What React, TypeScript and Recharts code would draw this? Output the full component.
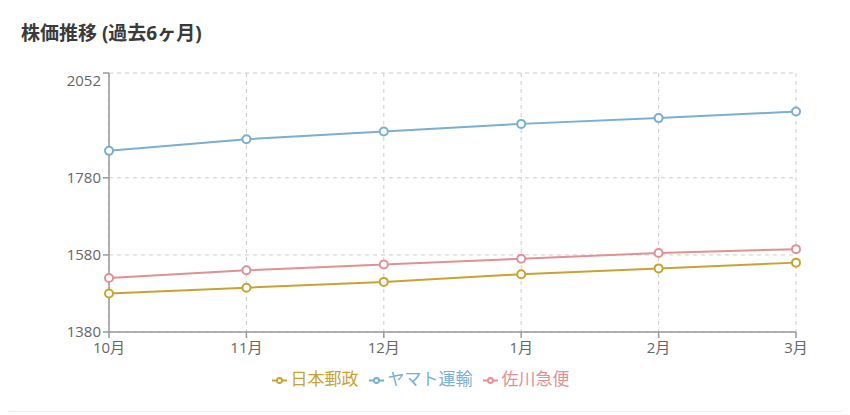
import { CartesianGrid, Legend, Line, LineChart, XAxis, YAxis } from 'recharts';

const months = ['10月', '11月', '12月', '1月', '2月', '3月'];
const japanPost = [1480, 1495, 1510, 1530, 1545, 1560];
const yamato = [1850, 1880, 1900, 1920, 1935, 1952];
const sagawa = [1520, 1540, 1555, 1570, 1585, 1595];
const seriesNames = ['日本郵政', 'ヤマト運輸', '佐川急便'];
const yTicks = [1380, 1580, 1780, 2052];

const data = months.map((month, i) => ({
  month,
  japanPost: japanPost[i],
  yamato: yamato[i],
  sagawa: sagawa[i],
}));

const FONT = "'Open Sans', 'Noto Sans CJK JP', sans-serif";

function YTick(props: any) {
  const { x, y, payload } = props;
  // top label sits a bit lower in the original
  const shift = payload.value === 2052 ? 8 : 0;
  return (
    <text x={x} y={y + shift} dy="0.355em" textAnchor="end" fill="#666" fontSize={15} fontFamily={FONT}>
      {payload.value}
    </text>
  );
}

const legendOrder = (item: any) => seriesNames.indexOf(item.value);

export default function App() {
  return (
    <div style={{ margin: '-6px 0 0 -6px', fontFamily: FONT }}>
      <div
        style={{
          position: 'relative',
          width: 844,
          height: 408,
          border: '1px solid #ececec',
          borderRadius: 8,
          background: '#fff',
          boxShadow: '0 1px 3px rgba(0,0,0,0.06)',
        }}
      >
        <div
          style={{
            position: 'absolute',
            left: 18,
            top: 17,
            fontSize: 19,
            fontWeight: 700,
            color: '#3a3a3a',
            lineHeight: '26px',
          }}
        >
          株価推移 (過去6ヶ月)
        </div>
        <div style={{ position: 'absolute', left: 0, top: 49 }}>
          <LineChart width={846} height={355} data={data} margin={{ top: 21, right: 53, bottom: 20, left: 0 }}>
            <CartesianGrid stroke="#ccc" strokeDasharray="4 4" />
            <XAxis
              dataKey="month"
              stroke="#999"
              strokeWidth={1.5}
              tick={{ fill: '#666', fontSize: 15, fontFamily: FONT }}
              tickMargin={4}
            />
            <YAxis
              width={106}
              domain={[1380, 2052]}
              ticks={yTicks}
              stroke="#999"
              strokeWidth={1.5}
              tick={<YTick />}
            />
            <Legend
              iconType="line"
              iconSize={15}
              itemSorter={legendOrder}
              wrapperStyle={{ fontSize: 17, fontFamily: FONT, left: 26, bottom: 17 }}
            />
            <Line
              type="linear"
              dataKey="japanPost"
              name={seriesNames[0]}
              stroke="#c9a332"
              strokeWidth={2}
              dot={{ r: 4, fill: '#fff', strokeWidth: 2 }}
              isAnimationActive={false}
            />
            <Line
              type="linear"
              dataKey="yamato"
              name={seriesNames[1]}
              stroke="#7aaed2"
              strokeWidth={2}
              dot={{ r: 4, fill: '#fff', strokeWidth: 2 }}
              isAnimationActive={false}
            />
            <Line
              type="linear"
              dataKey="sagawa"
              name={seriesNames[2]}
              stroke="#e29096"
              strokeWidth={2}
              dot={{ r: 4, fill: '#fff', strokeWidth: 2 }}
              isAnimationActive={false}
            />
          </LineChart>
        </div>
      </div>
    </div>
  );
}
